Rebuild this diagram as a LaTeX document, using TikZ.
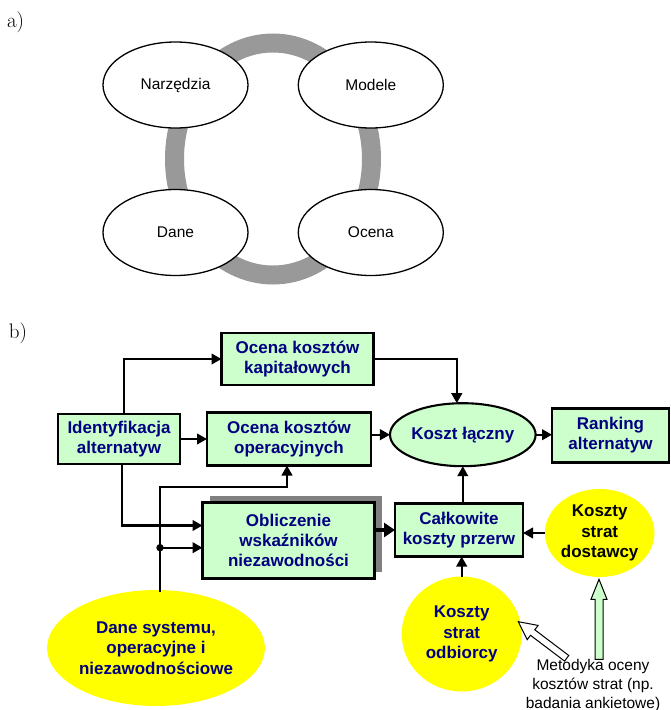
\documentclass[tikz,border=0pt]{standalone}
\usepackage{fontspec}
\newfontfamily\arialfont{Liberation Sans}
\usetikzlibrary{arrows.meta,calc,shadows,shapes.geometric}
\definecolor{boxgreen}{RGB}{204,255,204}
\definecolor{navytext}{RGB}{0,0,128}
\definecolor{ringgray}{RGB}{153,153,153}
\definecolor{shadowgray}{RGB}{128,128,128}
\definecolor{sunyellow}{RGB}{255,255,0}
\begin{document}
\begin{tikzpicture}[x=1pt,y=-1pt,
  every node/.style={inner sep=0pt, outer sep=0pt},
  partlabel/.style={anchor=west, font=\fontsize{21}{23}\selectfont},
  cycnode/.style={ellipse, draw, line width=1.3pt, fill=white,
    minimum width=145pt, minimum height=86pt,
    font=\arialfont\fontsize{15.5}{18}\selectfont},
  stage/.style={rectangle, draw, line width=2.1pt, fill=boxgreen, align=center,
    text=navytext, font=\arialfont\bfseries\fontsize{17}{20}\selectfont},
  blob/.style={ellipse, fill=sunyellow, align=center, text=navytext,
    font=\arialfont\bfseries\fontsize{17}{20.5}\selectfont},
  flow/.style={line width=2.4pt, -{Triangle[length=10pt,width=10.5pt]}},
  bigflow/.style={line width=3.8pt, -{Triangle[length=11pt,width=14pt]}},
  fatarrow/.style={draw, line width=1pt, line join=miter},
  note/.style={align=center, font=\arialfont\fontsize{15.5}{18.7}\selectfont}
  ]
\useasboundingbox (0,0) rectangle (670,710);

% ---------- a) the cycle ----------
\node[partlabel] (lbla) at (7,22) {a)};
\draw[ringgray, line width=19pt] (273,159) ellipse [x radius=98.5, y radius=116];
\node[cycnode] (narz) at (175.5,85) {Narzędzia};
\node[cycnode] (mod)  at (370.8,85) {Modele};
\node[cycnode] (dan)  at (175.5,232.5) {Dane};
\node[cycnode] (oc)   at (370.8,232.5) {Ocena};

% ---------- b) cost evaluation scheme ----------
\node[partlabel] (lblb) at (9,333) {b)};

\node[stage, minimum width=152pt, minimum height=52pt] (kap) at (297.5,359)
  {Ocena kosztów\\kapitałowych};
\node[stage, minimum width=122pt, minimum height=50pt] (ident) at (119,439)
  {Identyfikacja\\alternatyw};
\node[stage, minimum width=164pt, minimum height=53pt] (oper) at (289,439)
  {Ocena kosztów\\operacyjnych};
\node[stage, minimum width=172pt, minimum height=76pt,
  drop shadow={shadow xshift=7pt, shadow yshift=7pt, fill=shadowgray, opacity=1}]
  (obl) at (288.5,540.5) {Obliczenie\\wskaźników\\niezawodności};
\node[stage, ellipse, minimum width=119pt, minimum height=63pt] (koszt) at (462.8,434.7)
  {Koszt łączny};
\node[stage, minimum width=117pt, minimum height=54pt] (rank) at (610.5,435.5)
  {Ranking\\alternatyw};
\node[stage, minimum width=128pt, minimum height=53pt] (calk) at (459,530)
  {Całkowite\\koszty przerw};

\node[blob, minimum width=97pt, minimum height=88pt, text=black] (dost) at (599.7,533)
  {Koszty\\strat\\dostawcy};
\node[blob, minimum width=120pt, minimum height=115pt] (odb) at (461.7,634)
  {Koszty\\strat\\odbiorcy};
\node[blob, minimum width=188pt, minimum height=116pt] (dane) at (156,648)
  {Dane systemu,\\operacyjne i\\niezawodnościowe};

\node[note] (met) at (593,685.5) {Metodyka oceny\\kosztów strat (np.\\badania ankietowe)};

% junction points of the data line
\coordinate (bend) at (160,487);
\coordinate (dot) at (160,547.7);

% connectors
\draw[flow] ($(ident.north)+(5,0)$) |- (kap.west);
\draw[flow] (ident.east) -- (oper.west);
\draw[flow] ($(ident.south)+(3,0)$) |- ($(obl.west)+(0,-15)$);
\draw[flow] ($(dane.north)+(4,2)$) -- (bend) -| ($(oper.south)+(-2,0)$);
\draw[flow] (dot) -- (dot -| obl.west);
\fill (dot) circle (3.7);
\draw[flow] (kap.east) -| ($(koszt.north)+(-6,0)$);
\draw[flow] (oper.east |- koszt.west) -- (koszt.west);
\draw[flow] (koszt.east) -- (koszt.east -| rank.west);
\draw[flow] (koszt.south |- calk.north) -- (koszt.south);
\draw[bigflow] (obl.east |- calk.west) -- (calk.west);
\draw[flow] (dost.west) -- (dost.west -| calk.east);
\draw[flow] (odb.north) -- (odb.north |- calk.south);

% outlined block arrows from the method note
\draw[fatarrow, fill=white] (518.3,621.7) -- (538.1,625.4) -- (534.8,629.8)
  -- (568.8,655.5) -- (564.6,661.1) -- (530.5,635.3) -- (527.2,639.7) -- cycle;
\draw[fatarrow, fill=boxgreen] (599,579.3) -- (607,599.3) -- (603,599.3)
  -- (603,659.3) -- (595,659.3) -- (595,599.3) -- (591,599.3) -- cycle;
\end{tikzpicture}
\end{document}
